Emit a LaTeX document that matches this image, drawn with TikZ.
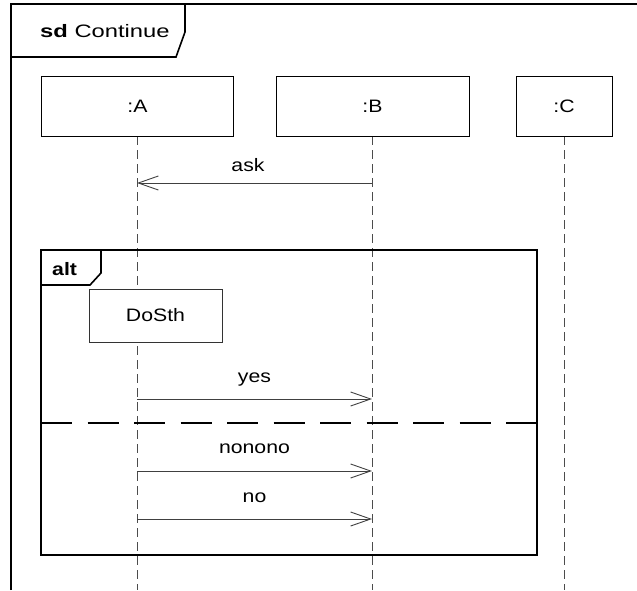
\documentclass[tikz,border=0pt]{standalone}
\usepackage{fontspec}
\setmainfont{Liberation Sans}[FakeStretch=1.18]
\newfontfamily\tagfont{Liberation Sans}[FakeStretch=1.32]
\usetikzlibrary{arrows.meta, positioning}
\tikzset{
  lifebox/.style={draw=black, line width=1pt, fill=white, inner sep=0pt,
    minimum height=60pt, font=\fontsize{18}{21}\selectfont},
  lifeline/.style={draw=black!70, line width=0.9pt, dash pattern=on 9pt off 5pt},
  msg/.style={draw=black!75, line width=0.9pt,
    -{Straight Barb[length=20pt,width=14pt,line width=0.9pt]}},
  msglabel/.style={font=\fontsize{18}{21}\selectfont, inner sep=0pt},
  frameline/.style={draw=black, line width=1.6pt},
}

\begin{document}
\begin{tikzpicture}[x=1pt, y=-1pt]
  \useasboundingbox (0,0) rectangle (637,590);
  % Outer frame
  \draw[frameline] (11,590) -- (11,4) -- (637,4);
  \draw[frameline] (11,57) -- (176,57) -- (185,32) -- (185,4);
  \node[msglabel, font=\fontsize{18}{21}\tagfont, anchor=base west] (sdtag)
    at (40,37) {\textbf{sd} Continue};
  % Lifelines
  \foreach \n/\x in {A/137, B/372, C/564} {
    \coordinate (top\n) at (\x,136);
    \coordinate (end\n) at (\x,590);
    \draw[lifeline] (top\n) -- (end\n);
  }
  % Heads
  \node[lifebox, minimum width=192pt] (headA) at (137.5,106) {:A};
  \node[lifebox, minimum width=193pt] (headB) at (372.5,106) {:B};
  \node[lifebox, minimum width=96pt] (headC) at (564,106) {:C};
  % Alt fragment
  \draw[frameline, line width=1.8pt] (41,250) rectangle (537,555);
  \draw[frameline] (41,285) -- (90,285) -- (101,273) -- (101,250);
  \node[msglabel, anchor=base west] (alttag) at (52,275) {\textbf{alt}};
  \draw[draw=black, line width=1.4pt, dash pattern=on 31pt off 15.5pt]
    (41,423) -- (537,423);
  % Execution
  \node[lifebox, draw=black!80, line width=0.8pt, minimum width=133pt,
        minimum height=53pt] (dosth) at (155.5,315.5) {DoSth};
  % Messages
  \foreach \m/\y/\yl in {yes/399/382, nonono/471/453, no/519/502} {
    \coordinate (\m A) at (137,\y);
    \coordinate (\m B) at (372,\y);
    \draw[msg] (\m A) -- (\m B);
    \node[msglabel, anchor=base] (\m lbl) at (254.5,\yl) {\m};
  }
  \coordinate (askA) at (137,183);
  \coordinate (askB) at (372,183);
  \draw[msg] (askB) -- (askA);
  \node[msglabel, anchor=base] (asklbl) at (248,171) {ask};
\end{tikzpicture}
\end{document}
